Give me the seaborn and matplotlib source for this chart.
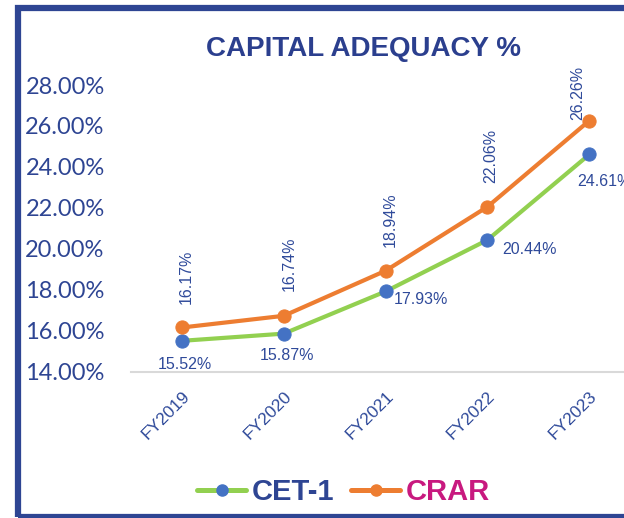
import pandas as pd
import matplotlib.pyplot as plt
import seaborn as sns
from matplotlib.lines import Line2D
from matplotlib.patches import Rectangle

# Data
years = ["FY2019", "FY2020", "FY2021", "FY2022", "FY2023"]
cet1 = [15.52, 15.87, 17.93, 20.44, 24.61]
crar = [16.17, 16.74, 18.94, 22.06, 26.26]
y_ticks = [14, 16, 18, 20, 22, 24, 26, 28]

navy = "#2E4593"
label_blue = "#2F4A9A"
green = "#92D050"
blue = "#4472C4"
orange = "#ED7D31"
magenta = "#C8197F"

df = pd.DataFrame({"year": years, "CET-1": cet1, "CRAR": crar})

sns.set_style("white")
plt.rcParams["font.family"] = ["Liberation Sans", "DejaVu Sans"]

fig = plt.figure(figsize=(6.24, 5.18), dpi=100)
ax = fig.add_axes([0.21, 0.2819, 0.816, 0.554])

sns.lineplot(data=df, x="year", y="CET-1", ax=ax, color=green, linewidth=3,
             marker="o", markersize=9.5, markerfacecolor=blue,
             markeredgecolor=blue, sort=False)
sns.lineplot(data=df, x="year", y="CRAR", ax=ax, color=orange, linewidth=3,
             marker="o", markersize=9.5, markerfacecolor=orange,
             markeredgecolor=orange, sort=False)

ax.set_xlim(-0.5, 4.5)
ax.set_ylim(14, 28)
ax.set_yticks(y_ticks)
ax.set_yticklabels([f"{v:.2f}%" for v in y_ticks], fontfamily="Lato",
                   fontsize=17, color=navy)
ax.set_xticks(range(len(years)))
ax.set_xticklabels(years, rotation=45, ha="right", va="top",
                   rotation_mode="anchor", fontsize=12.5, color=label_blue)
ax.tick_params(axis="y", length=0, pad=19)
ax.tick_params(axis="x", length=0, pad=12)
ax.set_xlabel("")
ax.set_ylabel("")
for side in ["top", "right", "left"]:
    ax.spines[side].set_visible(False)
ax.spines["bottom"].set_color("#D9D9D9")
ax.spines["bottom"].set_linewidth(1.5)

# data labels
cet_off = [(3, -24), (3, -22), (35, -8), (42, -10), (15, -27)]
crar_off = [(4, 51), (5, 52), (5, 51), (3, 51), (-12, 28)]
for i in range(len(years)):
    ax.annotate(f"{cet1[i]:.2f}%", (i, cet1[i]), xytext=cet_off[i],
                textcoords="offset pixels", ha="center", va="center",
                fontsize=11.5, color=label_blue, annotation_clip=False)
    ax.annotate(f"{crar[i]:.2f}%", (i, crar[i]), xytext=crar_off[i],
                textcoords="offset pixels", ha="center", va="center",
                rotation=90, fontsize=11.5, color=label_blue,
                annotation_clip=False)

fig.text(0.582, 0.905, "CAPITAL ADEQUACY %", ha="center", va="center",
         fontsize=20, fontweight="bold", color="#2B3F8E")

# legend
handles = [
    Line2D([], [], color=green, lw=3.6, marker="o", markersize=8,
           markerfacecolor=blue, markeredgecolor=blue),
    Line2D([], [], color=orange, lw=3.6, marker="o", markersize=8,
           markerfacecolor=orange, markeredgecolor=orange),
]
leg = fig.legend(handles, ["CET-1", "CRAR"], loc="center",
                 bbox_to_anchor=(0.55, 0.05), ncol=2, frameon=False,
                 handlelength=1.7, handletextpad=0.17, columnspacing=0.58,
                 prop={"size": 21, "weight": "bold"})
for txt, c in zip(leg.get_texts(), [navy, magenta]):
    txt.set_color(c)

# frame
fig.patches.append(Rectangle((17.5 / 624, 1.5 / 518), 1.2, 509 / 518,
                             transform=fig.transFigure, fill=False,
                             edgecolor=navy, linewidth=4.5, zorder=10))

fig.savefig("out.png", dpi=100)
